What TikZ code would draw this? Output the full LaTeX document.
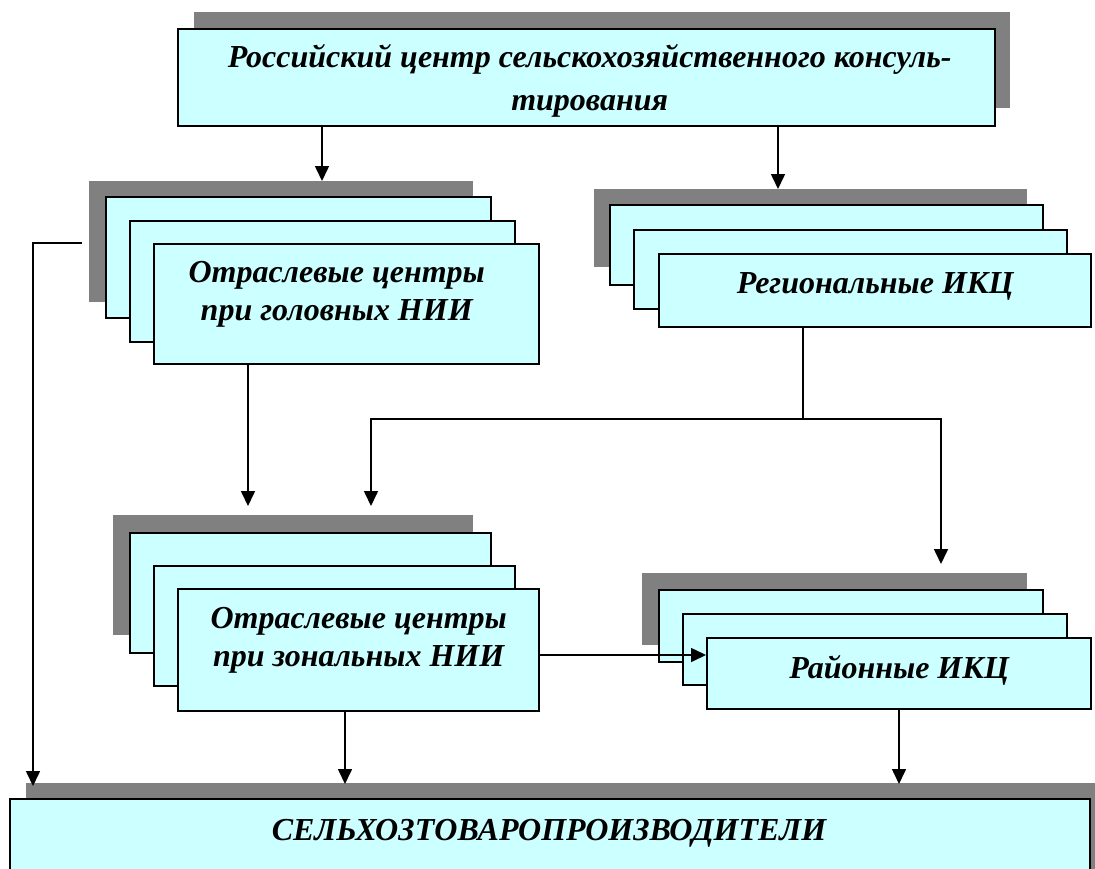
\documentclass[tikz,border=0pt]{standalone}
\usepackage{fontspec}
\setmainfont{Liberation Serif}
\usetikzlibrary{arrows.meta}
\definecolor{shadowgray}{HTML}{808080}
\definecolor{cardcyan}{HTML}{CCFFFF}
\tikzset{
	shade/.style={fill=shadowgray,draw=none,inner sep=0pt,anchor=north west},
	card/.style={fill=cardcyan,draw=black,line width=2.4pt,inner sep=0pt,anchor=north west},
	lbl/.style={font=\fontsize{32}{38}\selectfont\bfseries\itshape,align=center,inner sep=0pt},
	arr/.style={line width=1.6pt,-{Triangle[length=15pt,width=14pt]}},
	ln/.style={line width=1.6pt}
}
\begin{document}
\begin{tikzpicture}[x=1pt,y=-1pt]
	\useasboundingbox (0,0) rectangle (1095,868);
	\clip (0,0) rectangle (1095,868);
	
	%top box
	\node[shade,minimum width=816pt,minimum height=96pt] (rcc0) at (194,12) {}; %shadow
	\node[card,minimum width=817pt,minimum height=97pt] (rcc) at (177,28) {}; %box
	\node[lbl,font=\fontsize{32}{43}\selectfont\bfseries\itshape] (rcct) at ([xshift=3pt,yshift=-3pt]rcc.center) {Российский центр сельскохозяйственного консуль-\\тирования};
	
	%branch centres at head institutes-----------------------
	\node[shade,minimum width=384pt,minimum height=121pt] (gol0) at (89,181) {};
	\node[card,minimum width=385pt,minimum height=121pt] (gol1) at (105,196) {};
	\node[card,minimum width=385pt,minimum height=121pt] (gol2) at (129,220) {};
	\node[card,minimum width=385pt,minimum height=120pt] (gol3) at (153,243) {};
	\node[lbl] (golt) at ([xshift=-10pt,yshift=10pt]gol3.center) {Отраслевые центры\\при головных НИИ};
	
	%regional centres---------------------------------------
	\node[shade,minimum width=433pt,minimum height=78pt] (reg0) at (594,189) {};
	\node[card,minimum width=433pt,minimum height=80pt] (reg1) at (609,204) {};
	\node[card,minimum width=433pt,minimum height=79pt] (reg2) at (633,229) {};
	\node[card,minimum width=432pt,minimum height=73pt] (reg3) at (658,253) {};
	\node[lbl] (regt) at ([yshift=4pt]reg3.center) {Региональные ИКЦ};
	
	%branch centres at zonal institutes----------------------
	\node[shade,minimum width=360pt,minimum height=120pt] (zon0) at (113,515) {};
	\node[card,minimum width=361pt,minimum height=120pt] (zon1) at (129,532) {};
	\node[card,minimum width=361pt,minimum height=120pt] (zon2) at (153,565) {};
	\node[card,minimum width=361pt,minimum height=122pt] (zon3) at (177,588) {};
	\node[lbl] (zont) at ([yshift=10pt]zon3.center) {Отраслевые центры\\при зональных НИИ};
	
	%district centres----------------------------------------
	\node[shade,minimum width=385pt,minimum height=72pt] (rai0) at (642,573) {};
	\node[card,minimum width=384pt,minimum height=72pt] (rai1) at (658,589) {};
	\node[card,minimum width=384pt,minimum height=71pt] (rai2) at (682,613) {};
	\node[card,minimum width=384pt,minimum height=71pt] (rai3) at (706,637) {};
	\node[lbl] (rait) at ([yshift=3pt]rai3.center) {Районные ИКЦ};
	
	%producers box
	\node[shade,minimum width=1080pt,minimum height=100pt] (prod0) at (26,783) {};
	\node[card,minimum width=1080pt,minimum height=100pt] (prod) at (9,798) {};
	\node[lbl] (prodt) at (549,833) {СЕЛЬХОЗТОВАРОПРОИЗВОДИТЕЛИ};
	
	%connectors
	\draw[arr] (rcc.south-|322,0) -- (322,181); %to head institutes
	\draw[arr] (rcc.south-|778,0) -- (778,189); %to regional
	\draw[arr] (gol3.south-|248,0) -- (248,506); %head -> zonal
	\draw[ln] (reg3.south-|803,0) -- (803,419); %regional down
	\draw[arr] (803,419) -| (371,506); %regional -> zonal
	\draw[arr] (803,419) -| (941,564); %regional -> district
	\draw[arr] (zon3.east|-0,655) -- (rai3.west|-0,655); %zonal -> district
	\draw[arr] (zon3.south-|345,0) -- (345,784); %zonal -> producers
	\draw[arr] (rai3.south-|899,0) -- (899,784); %district -> producers
	\draw[arr] (gol0.west|-0,243) ++(-7,0) -- (33,243) -- (33,786); %head -> producers
\end{tikzpicture}
\end{document}
